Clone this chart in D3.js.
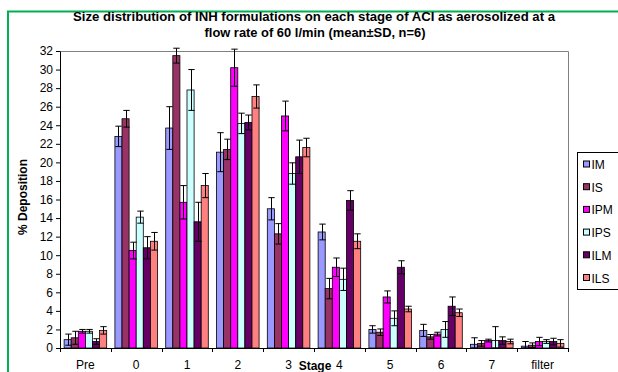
<!DOCTYPE html>
<html><head><meta charset="utf-8">
<script src="https://cdn.jsdelivr.net/npm/d3@7"></script>
<style>
body{margin:0;background:#fff;}
svg{display:block;font-family:Arial,"Liberation Sans",sans-serif;}
</style></head>
<body><svg id="c" width="618" height="372"></svg>
<script>
const stages = ["Pre","0","1","2","3","4","5","6","7","filter"];
const series = ["IM","IS","IPM","IPS","ILM","ILS"];
const colors = ["#9999FF","#993366","#FF00FF","#CCFFFF","#660066","#FF8080"];
const IM  = [0.9, 22.8, 23.7, 21.1, 15.0, 12.5, 2.0, 1.9, 0.4, 0.2];
const IS  = [1.1, 24.7, 31.5, 21.4, 12.3,  6.4, 1.7, 1.2, 0.5, 0.3];
const IPM = [1.8, 10.5, 15.7, 30.2, 25.0,  8.7, 5.5, 1.5, 0.8, 0.7];
const IPS = [1.8, 14.1, 27.8, 24.2, 18.8,  7.4, 3.2, 2.0, 0.8, 0.7];
const ILM = [0.7, 10.8, 13.6, 24.3, 20.6, 15.9, 8.7, 4.5, 0.8, 0.7];
const ILS = [1.9, 11.5, 17.5, 27.1, 21.6, 11.5, 4.2, 3.8, 0.7, 0.5];
const IM_sd  = [0.6, 1.1, 2.3, 2.1, 1.2, 0.85, 0.4, 0.65, 0.7, 0.5];
const IS_sd  = [0.7, 0.9, 0.8, 1.1, 1.1, 1.1, 0.35, 0.25, 0.3, 0.25];
const IPM_sd = [0.2, 0.9, 1.8, 2.0, 1.6, 1.0, 0.65, 0.2, 0.15, 0.45];
const IPS_sd = [0.2, 0.65, 2.2, 1.1, 1.15, 1.2, 0.8, 0.85, 1.5, 0.2];
const ILM_sd = [0.3, 1.2, 2.1, 0.8, 1.8, 1.05, 0.7, 1.0, 0.4, 0.35];
const ILS_sd = [0.4, 0.95, 1.3, 1.25, 1.0, 0.8, 0.3, 0.4, 0.25, 0.4];
const yTicks = d3.range(0, 33, 2);
const title1 = "Size distribution of INH formulations on each stage of ACI as aerosolized at a";
const title2 = "flow rate of 60 l/min (mean\u00B1SD, n=6)";

const means = [IM, IS, IPM, IPS, ILM, ILS];
const sds = [IM_sd, IS_sd, IPM_sd, IPS_sd, ILM_sd, ILS_sd];

const svg = d3.select("#c");
const L = 60, R = 568, T = 51, B = 348;

// green outer border
svg.append("path").attr("d", `M8,380 V11.5 H620`).attr("fill","none")
  .attr("stroke","#00B050").attr("stroke-width",2);

const x0 = d3.scaleBand().domain(stages).range([L, R]).padding(0);
const x1 = d3.scaleBand().domain(series).range([0, x0.bandwidth()]).paddingInner(0).paddingOuter(0.58);
const y = d3.scaleLinear().domain([0, 32]).range([B, T]);

// plot frame
svg.append("path").attr("d", `M${L},${T+0.5}H${R+0.5}V${B}`).attr("fill","none").attr("stroke","#808080").attr("stroke-width",1);

const data = [];
stages.forEach((s, i) => series.forEach((k, j) => data.push({s, k, j, v: means[j][i], sd: sds[j][i]})));

const g = svg.append("g");
g.selectAll("rect.bar").data(data).join("rect").attr("class","bar")
  .attr("x", d => x0(d.s) + x1(d.k))
  .attr("y", d => y(d.v))
  .attr("width", x1.bandwidth())
  .attr("height", d => y(0) - y(d.v))
  .attr("fill", d => colors[d.j])
  .attr("stroke", "#000").attr("stroke-width", 0.8);

const eb = svg.append("g").attr("stroke","#000").attr("stroke-width",1);
data.forEach(d => {
  const cx = Math.round(x0(d.s) + x1(d.k) + x1.bandwidth()/2) + 0.5;
  const lo = y(Math.max(0, d.v - d.sd)), hi = y(d.v + d.sd);
  const w = 3.2;
  eb.append("line").attr("x1",cx).attr("x2",cx).attr("y1",lo).attr("y2",hi);
  eb.append("line").attr("x1",cx-w).attr("x2",cx+w).attr("y1",hi).attr("y2",hi);
  eb.append("line").attr("x1",cx-w).attr("x2",cx+w).attr("y1",lo).attr("y2",lo);
});

// y axis
const ya = svg.append("g").attr("transform", `translate(${L},0)`)
  .call(d3.axisLeft(y).tickValues(yTicks).tickSize(4).tickSizeOuter(0).tickPadding(3));
ya.select(".domain").attr("stroke","#000");
ya.selectAll(".tick line").attr("stroke","#000");
ya.selectAll("text").attr("font-size", 12).attr("fill","#000").attr("font-family","Arial, 'Liberation Sans', sans-serif");

// x axis
const xa = svg.append("g").attr("transform", `translate(0,${B})`);
xa.append("line").attr("x1",L).attr("x2",R).attr("y1",0.5).attr("y2",0.5).attr("stroke","#000");
const bounds = stages.map(s => x0(s)).concat([R]);
xa.selectAll("line.tk").data(bounds).join("line").attr("class","tk")
  .attr("x1", d => Math.round(d)+0.5).attr("x2", d => Math.round(d)+0.5).attr("y1",0).attr("y2",4).attr("stroke","#000");
xa.selectAll("text").data(stages).join("text")
  .attr("x", d => x0(d) + x0.bandwidth()/2).attr("y", 21)
  .attr("text-anchor","middle").attr("font-size",12).attr("fill","#000").text(d => d);

// titles
svg.append("text").attr("x",314).attr("y",21).attr("text-anchor","middle")
  .attr("font-size",12).attr("font-weight","bold")
  .attr("textLength",482).attr("lengthAdjust","spacingAndGlyphs").text(title1);
svg.append("text").attr("x",315).attr("y",37).attr("text-anchor","middle")
  .attr("font-size",12).attr("font-weight","bold")
  .attr("textLength",221).attr("lengthAdjust","spacingAndGlyphs").text(title2);
svg.append("text").attr("transform","translate(27,197) rotate(-90)").attr("text-anchor","middle")
  .attr("font-size",12).attr("font-weight","bold").text("% Deposition");
svg.append("text").attr("x",315).attr("y",370).attr("text-anchor","middle")
  .attr("font-size",12).attr("font-weight","bold").text("Stage");

// legend
const lg = svg.append("g");
lg.append("rect").attr("x",577.5).attr("y",152.5).attr("width",60).attr("height",137)
  .attr("fill","#fff").attr("stroke","#000").attr("stroke-width",1);
const ly = d3.scalePoint().domain(series).range([164.5, 278]);
series.forEach((k, j) => {
  lg.append("rect").attr("x",583.5).attr("y",ly(k)-3.5).attr("width",6).attr("height",6)
    .attr("fill",colors[j]).attr("stroke","#000").attr("stroke-width",1);
  lg.append("text").attr("x",591.5).attr("y",ly(k)+4.5).attr("font-size",12).attr("fill","#000").text(k);
});
</script></body></html>
